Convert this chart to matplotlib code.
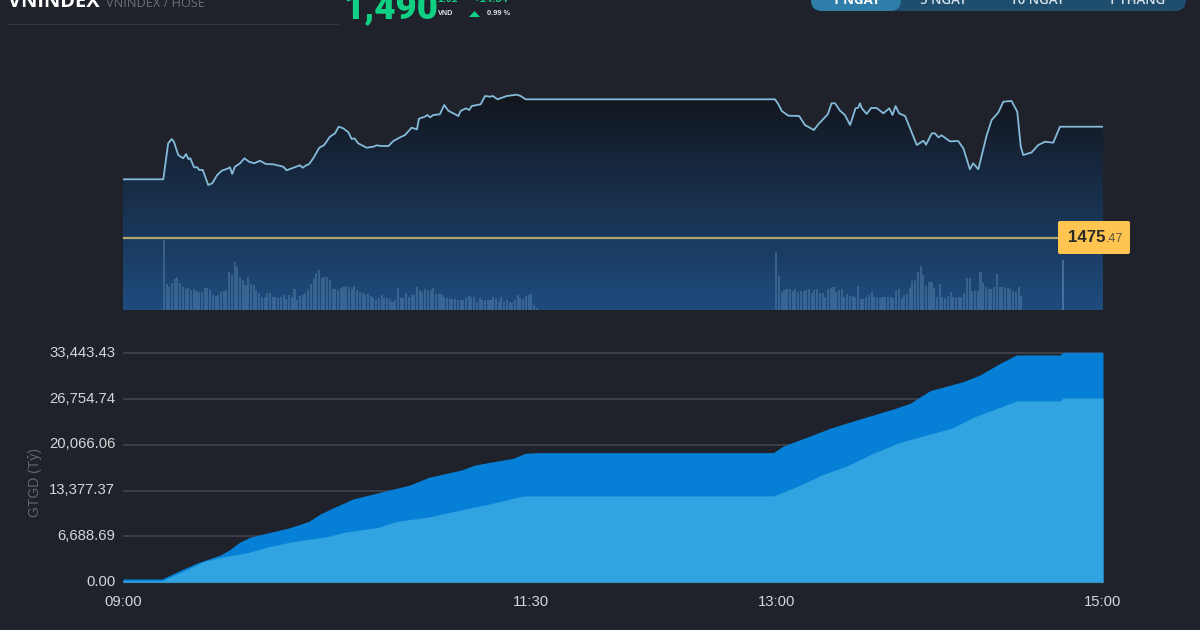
import numpy as np
import matplotlib
matplotlib.use("Agg")
import matplotlib.pyplot as plt
from matplotlib.patches import FancyBboxPatch, Polygon
from matplotlib.transforms import ScaledTranslation

# ---------- data (minutes since 09:00) ----------
price_t = [0, 14.8, 16.6, 17.9, 18.7, 20.3, 22.1, 23.2, 24, 24.7, 26.1, 27.3, 28, 29.3, 31.3, 32.8, 34.6, 36.3, 38.7, 39.3,
           40.1, 41.1, 43, 44.6, 46.3, 48.2, 50.3, 52.5, 55.2, 58.9, 60.1, 62.6, 65, 66, 67.5, 68.3, 69.9, 72.1, 73.9, 76,
           77.9, 79.2, 80.9, 82.8, 84, 85, 86.4, 89.5, 91.9, 93.2, 95, 97.5, 99.3, 101.8, 103.6, 106, 108, 108.7, 110.9, 111.8,
           112.8, 114, 116.4, 118, 119.5, 123.2, 124, 126, 127.2, 128.1, 131.4, 133, 134.8, 135.8, 137.6, 141, 144.6, 146.1, 147.9, 239.5,
           240.7, 242, 244.4, 248.4, 250.5, 253.8, 255.4, 258.9, 260.3, 261.6, 263.4, 265.2, 267.1, 269.1, 270.1, 270.7, 271.4, 273.2, 274.8, 276.9,
           279.3, 281.5, 282.7, 283.8, 285.1, 287.3, 291.6, 294, 295, 297.1, 298.3, 299.5, 300.7, 303.8, 306.8, 308.7, 311.1, 312.3, 314.2, 317.3,
           319.1, 321.5, 323.4, 326.4, 328.5, 329.8, 330.7, 333.8, 336.2, 338.7, 341.7, 344.2, 360]
price_v = [1483.16, 1483.16, 1487.83, 1488.39, 1488.04, 1486.31, 1485.89, 1486.44, 1485.79, 1485.89, 1484.72, 1484.72, 1484.37, 1484.37, 1482.42, 1482.64, 1483.72, 1484.28, 1484.59, 1484.72,
           1483.85, 1484.79, 1485.24, 1485.89, 1485.44, 1485.24, 1485.57, 1485.15, 1485.11, 1484.79, 1484.33, 1484.66, 1484.98, 1484.66, 1485.02, 1485.11, 1485.89, 1487.26, 1487.61, 1488.69,
           1489.13, 1489.99, 1489.78, 1489.26, 1488.39, 1488.48, 1487.83, 1487.26, 1487.39, 1487.57, 1487.48, 1487.48, 1488.13, 1488.61, 1488.91, 1489.86, 1489.65, 1491.03, 1491.29, 1491.51,
           1491.21, 1491.51, 1491.60, 1492.81, 1492.07, 1491.38, 1492.03, 1492.38, 1492.16, 1492.68, 1492.90, 1493.98, 1493.89, 1493.98, 1493.55, 1493.98, 1494.15, 1493.98, 1493.55, 1493.55,
           1492.94, 1492.03, 1491.42, 1491.38, 1490.21, 1489.56, 1490.30, 1491.60, 1493.03, 1493.03, 1492.07, 1491.51, 1490.21, 1492.38, 1492.46, 1493.03, 1492.38, 1491.64, 1492.42, 1492.42,
           1491.73, 1492.38, 1491.51, 1492.68, 1491.73, 1491.38, 1487.61, 1488.17, 1487.65, 1489.13, 1489.13, 1488.61, 1488.87, 1488.09, 1488.13, 1487.18, 1484.46, 1485.24, 1484.46, 1488.91,
           1490.86, 1491.81, 1493.24, 1493.33, 1491.94, 1487.39, 1486.31, 1486.66, 1487.61, 1488.04, 1487.91, 1489.99, 1489.99]
reference_price = 1475.47

vol_am_start = 15
vol_am = [70, 26, 23, 27, 31, 33, 27, 23, 21, 22, 20, 21, 19, 18, 18, 22, 22, 20, 15, 14, 15, 18, 19, 20, 38, 35, 48, 43, 33, 30,
          25, 33, 26, 25, 20, 17, 13, 13, 17, 17, 13, 13, 12, 13, 15, 11, 15, 13, 21, 10, 14, 15, 17, 20, 26, 32, 37, 40, 32, 33,
          33, 30, 21, 21, 20, 22, 23, 24, 23, 21, 24, 20, 18, 17, 15, 16, 14, 12, 10, 12, 15, 12, 12, 11, 8, 10, 22, 12, 12, 17,
          13, 15, 15, 23, 20, 18, 21, 20, 20, 22, 16, 16, 16, 13, 12, 11, 11, 11, 10, 10, 10, 12, 14, 13, 13, 8, 12, 10, 10, 10,
          10, 13, 11, 8, 13, 8, 10, 8, 7, 10, 15, 12, 11, 14, 15, 16, 5, 2]
vol_pm_start = 240
vol_pm = [58, 34, 18, 20, 21, 21, 19, 21, 18, 19, 19, 20, 21, 17, 20, 21, 17, 17, 13, 21, 22, 23, 18, 20, 21, 13, 16, 14, 14, 13,
          24, 11, 11, 13, 15, 18, 13, 13, 12, 13, 13, 13, 13, 12, 20, 21, 12, 15, 16, 22, 29, 30, 38, 44, 35, 24, 28, 28, 22, 13,
          26, 13, 12, 14, 18, 13, 12, 13, 13, 17, 32, 32, 19, 19, 19, 38, 27, 23, 21, 21, 23, 36, 23, 23, 22, 22, 21, 19, 18, 23, 14]
vol_close_t = 345.2
vol_close = 50

total_t = [0, 14.3, 21.9, 27.6, 35.8, 39, 42.8, 46.6, 53.5, 60.5, 68.1, 72.5, 76.3, 84.5, 91.5, 105.4, 112.3, 124.4, 129.4, 143.3, 147.8, 153,
           238.9, 242.6, 251.2, 259.7, 269.5, 283, 289.1, 296.5, 308.7, 314.8, 322.2, 328.3, 344.2, 345.4, 360]
total_v = [487, 487, 1900, 2870, 3990, 4720, 5840, 6570, 7250, 7890, 8860, 9980, 10710, 12170, 12850, 14210, 15330, 16410, 17140, 18110, 18840, 18940,
           18940, 19910, 21180, 22490, 23710, 25310, 26140, 27990, 29310, 30280, 31980, 33200, 33200, 33590, 33590]
part_t = [0, 14.3, 21.9, 29.5, 35.8, 45.9, 53.5, 62.4, 75, 81.3, 94, 100.3, 113, 123, 135.7, 147.1, 153,
          238.9, 247.5, 257.3, 265.9, 275.6, 285.5, 297.7, 305, 312.4, 328.3, 344.2, 345.4, 360]
part_v = [243, 243, 1560, 3020, 3650, 4330, 5210, 5940, 6670, 7300, 8030, 8860, 9590, 10470, 11540, 12610, 12610,
          12610, 13970, 15770, 16990, 18840, 20450, 21760, 22590, 24100, 26480, 26480, 26920, 26920]

y_ticks = [0.00, 6688.69, 13377.37, 20066.06, 26754.74, 33443.43]
x_ticks = [0, 150, 240, 360]
x_labels = ["09:00", "11:30", "13:00", "15:00"]
tabs = ["1 NGÀY", "5 NGÀY", "10 NGÀY", "1 THÁNG"]

# ---------- figure ----------
W, H = 1200, 630
BG = "#1f222a"
plt.rcParams["font.family"] = ["Liberation Sans", "DejaVu Sans"]
fig = plt.figure(figsize=(W / 100, H / 100), dpi=100, facecolor=BG)

def rect(x0, y0, x1, y1):
    return [x0 / W, 1 - y1 / H, (x1 - x0) / W, (y1 - y0) / H]

ov = fig.add_axes([0, 0, 1, 1], zorder=5)
ov.set_xlim(0, W); ov.set_ylim(H, 0); ov.axis("off")

# ---------- price panel ----------
ax = fig.add_axes(rect(123, 90, 1103, 310))
ax.set_facecolor("none")
c0 = np.array([0x12, 0x14, 0x1b]) / 255
c1 = np.array([0x1e, 0x4c, 0x7e]) / 255
f = np.linspace(0, 1, 256)[:, None, None]
grad = c0[None, None, :] * (1 - f) + c1[None, None, :] * f
im = ax.imshow(grad, extent=[0, 360, 1466.18, 1494.76], aspect="auto", origin="upper", zorder=1)
poly = ax.fill_between(price_t, price_v, 1466.18, color="none", zorder=1)
im.set_clip_path(poly.get_paths()[0], transform=ax.transData)
ax.set_xlim(0, 360)
ax.set_ylim(1466.18, 1494.76)
ax.plot(price_t, price_v, color="#84bbdb", lw=1.3, zorder=4, solid_joinstyle="round")
ax.axhline(reference_price, xmin=0, xmax=0.955, color="#b3a56e", lw=1.6, zorder=5)
ax.axis("off")

vax = fig.add_axes(rect(123, 90, 1103, 310), zorder=1)
vax.set_facecolor("none")
vax.set_xlim(0, 360)
vax.set_ylim(0, 220)
vax.bar(np.arange(len(vol_am)) + vol_am_start, vol_am, width=0.75, color="#5f8cb8", alpha=0.42, linewidth=0)
vax.bar(np.arange(len(vol_pm)) + vol_pm_start, vol_pm, width=0.75, color="#5f8cb8", alpha=0.42, linewidth=0)
vax.bar([vol_close_t], [vol_close], width=0.6, color="#5f8cb8", alpha=0.6, linewidth=0)
vax.axis("off")

# price tag
ov.add_patch(FancyBboxPatch((1058, 221), 72, 33, boxstyle="round,pad=0,rounding_size=2", fc="#ffc550", ec="none"))
ov.text(1068, 237.5, "1475", fontsize=12.2, fontweight="bold", color="#2c2a26", ha="left", va="center")
ov.text(1106, 238.5, ".47", fontsize=9, color="#5c5644", ha="left", va="center")

# ---------- turnover panel ----------
bx = fig.add_axes(rect(123, 345, 1103, 582.3), zorder=2)
bx.set_facecolor("none")
bx.set_xlim(0, 360)
bx.set_ylim(0, 34655)
bx.fill_between(total_t, total_v, 0, color="#0680d6", linewidth=0, zorder=2)
bx.fill_between(part_t, part_v, 0, color="#31a3e0", linewidth=0, zorder=3)
for s in ["top", "left", "right"]:
    bx.spines[s].set_visible(False)
bx.spines["bottom"].set_color("#4a4d55")
bx.spines["bottom"].set_linewidth(1)
bx.set_yticks(y_ticks)
bx.set_yticklabels([f"{v:,.2f}" for v in y_ticks])
bx.set_xticks(x_ticks)
bx.set_xticklabels(x_labels)
bx.tick_params(axis="both", length=0, labelsize=10.7, labelcolor="#d6d6d8")
bx.tick_params(axis="y", pad=5.5)
bx.tick_params(axis="x", pad=9.3)
up = ScaledTranslation(0, 1.5 / 72, fig.dpi_scale_trans)
for lab in bx.get_yticklabels():
    lab.set_transform(lab.get_transform() + up)
bx.grid(axis="y", color="#41444c", lw=1.2, zorder=1)
bx.set_axisbelow(True)
bx.set_ylabel("GTGD (Tỷ)", fontsize=10, color="#62656b")
bx.yaxis.set_label_coords(-0.0825, 0.42)

# ---------- header ----------
ov.text(8, 7, "VNINDEX", fontsize=14.5, fontweight="bold", color="#ffffff", ha="left", va="baseline", family="Open Sans")
ov.text(106, 7, "VNINDEX / HOSE", fontsize=9.2, color="#6c6f76", ha="left", va="baseline", family="Open Sans")
ov.plot([8, 338], [23.5, 23.5], color="#33363e", lw=0.8)
ov.text(343, 18, "1,490", fontsize=26.5, fontweight=900, color="#0fd083", ha="left", va="baseline", family="Roboto")
ov.text(437, 2, "1.01", fontsize=7.5, color="#0fd083", ha="left", va="baseline", fontweight="bold")
ov.text(473, 2, "+14.54", fontsize=8, color="#0fd083", ha="left", va="baseline", fontweight="bold")
ov.text(438, 15, "VND", fontsize=5.2, color="#e2e2e2", ha="left", va="baseline", fontweight="bold")
ov.add_patch(Polygon([[469, 17], [480, 17], [474.5, 11]], closed=True, fc="#0fd083", ec="none"))
ov.text(487, 15, "0.99 %", fontsize=5.4, color="#e2e2e2", ha="left", va="baseline", fontweight="bold")

# tabs
ov.add_patch(FancyBboxPatch((811, -20), 375, 31, boxstyle="round,pad=0,rounding_size=11", fc="#1f4d6e", ec="none"))
ov.add_patch(FancyBboxPatch((811, -20), 90, 31, boxstyle="round,pad=0,rounding_size=11", fc="#2f7ea9", ec="none"))
for cx, lab, active in zip([856, 944, 1037, 1137], tabs, [True, False, False, False]):
    ov.text(cx, 4, lab, fontsize=9.5, fontweight="bold" if active else 600, color="#ffffff" if active else "#d9e2e8",
            ha="center", va="baseline", family="Open Sans")

fig.savefig("out.png", dpi=100, facecolor=BG)
